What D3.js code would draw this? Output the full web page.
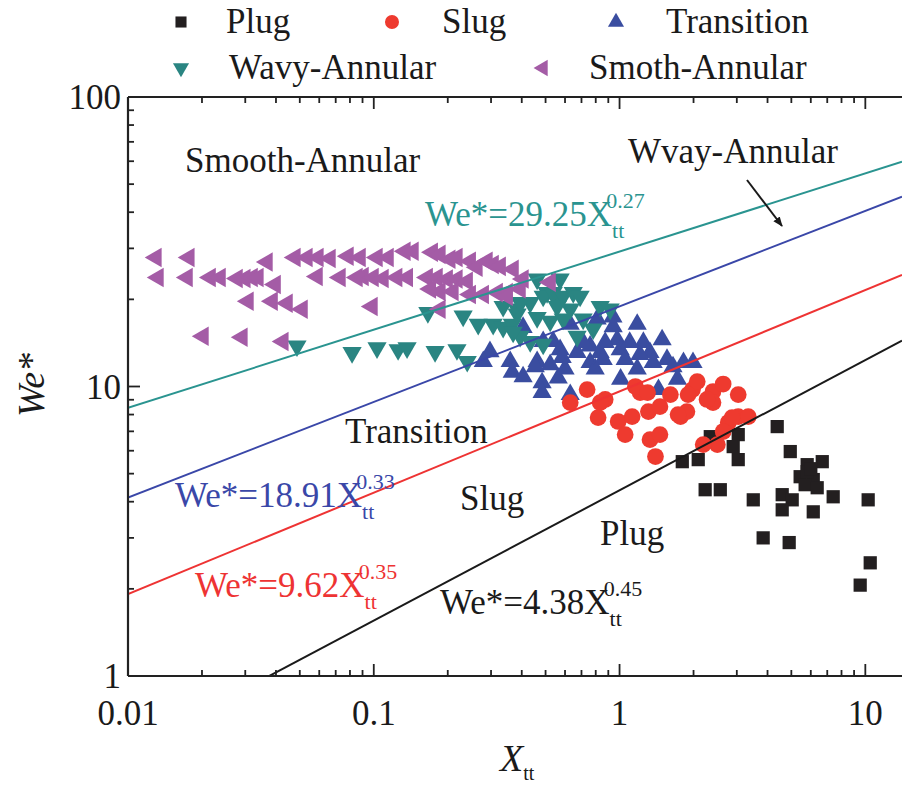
<!DOCTYPE html>
<html>
<head>
<meta charset="utf-8">
<script src="https://cdn.jsdelivr.net/npm/d3@7"></script>
<style>
  body { margin: 0; background: #fff; }
  text { font-family: "Liberation Serif", "Times New Roman", "DejaVu Serif", serif; }
</style>
</head>
<body>
<main></main>
<script>
// flow pattern data, [Xtt, We*]
const plug = [
  [4.38, 7.27], [4.95, 5.96], [5.80, 5.37], [6.68, 5.50], [5.43, 4.88], [6.14, 4.77],
  [5.69, 4.58], [6.37, 4.47], [7.40, 4.16], [10.27, 4.06], [4.59, 4.23], [5.04, 4.06],
  [4.59, 3.75], [6.14, 3.69], [3.50, 4.06], [3.84, 3.00], [4.90, 2.89], [10.47, 2.46],
  [9.53, 2.06], [2.23, 4.40], [2.57, 4.40], [1.80, 5.50], [2.09, 5.59], [2.34, 6.71],
  [3.04, 6.82], [2.90, 6.20], [3.04, 5.59], [5.80, 5.08], [6.0, 5.2]
];
const slug = [
  [0.630, 8.80], [0.738, 9.76], [0.874, 9.02], [0.818, 7.81], [0.987, 7.57], [1.125, 7.87],
  [1.054, 6.82], [1.213, 9.53], [1.16, 10.0], [1.31, 8.19], [1.46, 8.52], [1.61, 9.38],
  [1.77, 7.87], [1.88, 8.19], [1.98, 9.76], [2.07, 10.4], [1.90, 9.38], [2.40, 9.61],
  [2.64, 10.2], [3.04, 9.38], [2.40, 8.80], [2.77, 7.51], [3.04, 7.87], [3.34, 7.87],
  [2.64, 6.99], [2.50, 6.30], [2.19, 6.30], [1.33, 6.55], [1.46, 6.82], [1.40, 5.73],
  [1.30, 9.53], [1.73, 8.00], [2.87, 7.81], [2.27, 9.02], [0.834, 8.80]
];
const transition = [
  [0.297, 13.2], [0.279, 12.2], [0.359, 12.2], [0.405, 16.0], [0.462, 12.2], [0.537, 14.3],
  [0.522, 11.9], [0.366, 11.2], [0.405, 10.8], [0.454, 11.7], [0.484, 10.3], [0.484, 9.53],
  [0.563, 10.7], [0.630, 9.38], [0.489, 14.3], [0.573, 13.4], [0.584, 12.6], [0.630, 16.4],
  [0.672, 13.1], [0.759, 13.8], [0.759, 12.1], [0.796, 11.5], [0.834, 13.1], [0.858, 12.4],
  [0.942, 16.1], [0.978, 14.5], [1.006, 13.4], [1.054, 12.4], [0.94, 17.4], [1.18, 16.4],
  [1.25, 14.2], [1.33, 13.1], [1.37, 12.1], [1.49, 14.5], [1.56, 12.4], [1.65, 11.7],
  [1.82, 12.1], [1.99, 12.1], [1.72, 10.6], [1.44, 9.76], [1.18, 11.5], [1.01, 10.6],
  [0.811, 17.1], [0.711, 14.2], [0.874, 14.2], [1.10, 14.2], [1.21, 12.9], [0.60, 11.5]
];
const wavyAnnular = [
  [0.0487, 13.8], [0.0816, 13.1], [0.1031, 13.6], [0.1256, 13.4], [0.1366, 13.6], [0.1776, 13.2],
  [0.218, 13.4], [0.240, 12.2], [0.166, 18.0], [0.231, 17.5], [0.266, 16.4], [0.306, 16.4],
  [0.336, 16.0], [0.366, 16.4], [0.394, 14.9], [0.433, 14.3], [0.462, 23.5], [0.507, 21.1],
  [0.557, 19.7], [0.336, 18.9], [0.383, 17.8], [0.462, 17.3], [0.522, 16.8], [0.489, 14.0],
  [0.369, 15.4], [0.383, 18.5], [0.433, 19.5], [0.489, 20.5], [0.537, 21.1], [0.590, 20.5],
  [0.648, 21.1], [0.691, 20.5], [0.557, 18.9], [0.630, 18.5], [0.590, 17.1], [0.711, 17.1],
  [0.834, 18.9], [0.916, 18.5], [0.672, 14.9], [0.781, 15.8], [0.573, 23.5], [0.394, 19.5]
];
const smothAnnular = [
  [0.0130, 27.9], [0.0177, 27.9], [0.0368, 26.9], [0.0478, 27.9], [0.0535, 27.9], [0.0593, 27.9],
  [0.0664, 27.7], [0.0786, 28.2], [0.0880, 27.9], [0.1031, 27.9], [0.1144, 27.9],
  [0.01325, 23.8], [0.0174, 23.8], [0.0216, 23.8], [0.0237, 23.8], [0.0278, 23.6], [0.0299, 23.6],
  [0.0320, 23.8], [0.0338, 23.8], [0.0397, 22.5], [0.0588, 24.0], [0.0729, 23.8], [0.0855, 23.8],
  [0.0905, 24.0], [0.0994, 23.8], [0.1091, 23.6],
  [0.0308, 19.7], [0.0386, 19.7], [0.0444, 19.4], [0.0511, 18.5], [0.0984, 18.9],
  [0.0202, 14.9], [0.0291, 14.8], [0.0427, 14.3],
  [0.134, 29.3], [0.1445, 29.3], [0.173, 29.1], [0.186, 28.6], [0.204, 27.5], [0.218, 27.9],
  [0.247, 27.1], [0.289, 27.1], [0.306, 26.4], [0.263, 25.8], [0.327, 26.0], [0.369, 25.4],
  [0.405, 23.5], [0.124, 23.8], [0.137, 23.8], [0.165, 23.8], [0.181, 23.8], [0.199, 23.5],
  [0.218, 23.5], [0.240, 23.1], [0.170, 21.7], [0.186, 21.3], [0.210, 21.3], [0.247, 20.8],
  [0.279, 20.8], [0.318, 21.1], [0.349, 21.1], [0.394, 21.7], [0.522, 22.9], [0.186, 18.5],
  [0.349, 20.5]
];

// boundary lines We* = a * Xtt^b
const fitA = [29.25, 18.91, 9.62, 4.38];
const fitB = [0.27, 0.33, 0.35, 0.45];
const fitColors = ["#2a9490", "#3a47a8", "#ee3333", "#1a1a1a"];

const xMajor = [0.01, 0.1, 1, 10];
const yMajor = [1, 10, 100];

const width = 902, height = 786;
const plotLeft = 128, plotRight = 902, plotTop = 97, plotBottom = 676;
const serif = "'Liberation Serif', 'Times New Roman', 'DejaVu Serif', serif";

const svg = d3.select("main").append("svg")
  .attr("width", width)
  .attr("height", height)
  .attr("font-family", serif)
  .style("display", "block");

const x = d3.scaleLog().domain([0.01, 14.1]).range([plotLeft, plotRight]);
const y = d3.scaleLog().domain([1, 100]).range([plotBottom, plotTop]);

svg.append("clipPath").attr("id", "plotclip")
  .append("rect")
  .attr("x", plotLeft).attr("y", plotTop)
  .attr("width", plotRight - plotLeft).attr("height", plotBottom - plotTop);

// markers
const series = [
  { name: "Plug", data: plug, color: "#231f20", type: d3.symbolSquare, size: 175, rot: 0 },
  { name: "Transition", data: transition, color: "#3a4da0", type: d3.symbolTriangle, size: 160, rot: 0 },
  { name: "Wavy-Annular", data: wavyAnnular, color: "#2a8582", type: d3.symbolTriangle, size: 160, rot: 180 },
  { name: "Smoth-Annular", data: smothAnnular, color: "#a45ca6", type: d3.symbolTriangle, size: 165, rot: -90 },
  { name: "Slug", data: slug, color: "#ee3a2f", type: d3.symbolCircle, size: 220, rot: 0 }
];

const pts = svg.append("g").attr("clip-path", "url(#plotclip)");
series.forEach(s => {
  const sym = d3.symbol().type(s.type).size(s.size);
  pts.append("g").selectAll("path")
    .data(s.data)
    .join("path")
    .attr("d", sym)
    .attr("fill", s.color)
    .attr("transform", d => "translate(" + x(d[0]) + "," + y(d[1]) + ") rotate(" + s.rot + ")");
});

// boundary lines
const lineG = svg.append("g").attr("clip-path", "url(#plotclip)");
const xs = x.domain();
fitA.forEach((a, i) => {
  const pts2 = xs.map(v => [v, a * Math.pow(v, fitB[i])]);
  lineG.append("path")
    .attr("d", d3.line().x(d => x(d[0])).y(d => y(d[1]))(pts2))
    .attr("fill", "none")
    .attr("stroke", fitColors[i])
    .attr("stroke-width", 2);
});

// axes
const axisColor = "#222";
const ax = svg.append("g");
ax.append("line").attr("x1", plotLeft).attr("x2", plotRight).attr("y1", plotBottom).attr("y2", plotBottom)
  .attr("stroke", axisColor).attr("stroke-width", 2.2);
ax.append("line").attr("x1", plotLeft).attr("x2", plotRight).attr("y1", plotTop).attr("y2", plotTop)
  .attr("stroke", axisColor).attr("stroke-width", 2.2);
ax.append("line").attr("x1", plotLeft).attr("x2", plotLeft).attr("y1", plotTop).attr("y2", plotBottom)
  .attr("stroke", axisColor).attr("stroke-width", 2.2);

function logTicks(scale) {
  const [lo, hi] = scale.domain();
  const out = [];
  for (let e = Math.floor(Math.log10(lo)); e <= Math.ceil(Math.log10(hi)); e++) {
    for (let m = 1; m <= 9; m++) {
      const v = m * Math.pow(10, e);
      if (v >= lo * 0.999 && v <= hi) out.push({ v: v, major: m === 1 });
    }
  }
  return out;
}

logTicks(x).forEach(t => {
  const len = t.major ? 12 : 6;
  [[plotBottom, -len], [plotTop, len]].forEach(([yy, dl]) => {
    ax.append("line").attr("x1", x(t.v)).attr("x2", x(t.v)).attr("y1", yy).attr("y2", yy + dl)
      .attr("stroke", axisColor).attr("stroke-width", 1.8);
  });
});
logTicks(y).forEach(t => {
  const len = t.major ? 12 : 6;
  ax.append("line").attr("x1", plotLeft).attr("x2", plotLeft + len).attr("y1", y(t.v)).attr("y2", y(t.v))
    .attr("stroke", axisColor).attr("stroke-width", 1.8);
});

const fmt = v => v >= 1 ? String(v) : String(+v.toFixed(2));
ax.selectAll("text.xt").data(xMajor).join("text")
  .attr("x", d => x(d)).attr("y", 725)
  .attr("text-anchor", "middle").attr("font-size", 35).attr("fill", "#1a1a1a")
  .text(fmt);
ax.selectAll("text.yt").data(yMajor).join("text")
  .attr("x", 121).attr("y", d => y(d) + 12)
  .attr("text-anchor", "end").attr("font-size", 35).attr("fill", "#1a1a1a")
  .text(fmt);

// axis titles
svg.append("text")
  .attr("transform", "translate(44,385) rotate(-90)")
  .attr("text-anchor", "middle").attr("font-size", 38).attr("font-style", "italic").attr("fill", "#1a1a1a")
  .text("We*");
const xt = svg.append("text").attr("x", 500).attr("y", 771).attr("font-size", 38).attr("fill", "#1a1a1a");
xt.append("tspan").attr("font-style", "italic").text("X");
xt.append("tspan").attr("font-size", 20).attr("dy", 9).text("tt");

// region labels
const labels = [
  { t: "Smooth-Annular", x: 185, y: 172 },
  { t: "Wvay-Annular", x: 628, y: 163 },
  { t: "Transition", x: 345, y: 443 },
  { t: "Slug", x: 460, y: 510 },
  { t: "Plug", x: 600, y: 545 }
];
labels.forEach(l => {
  svg.append("text").attr("x", l.x).attr("y", l.y).attr("font-size", 35).attr("fill", "#1a1a1a").text(l.t);
});

// arrow
svg.append("defs").append("marker")
  .attr("id", "arrowhead").attr("viewBox", "0 0 10 10").attr("refX", 9).attr("refY", 5)
  .attr("markerWidth", 5).attr("markerHeight", 5).attr("orient", "auto")
  .append("path").attr("d", "M0,1 L10,5 L0,9 z").attr("fill", "#1a1a1a");
svg.append("line").attr("x1", 747).attr("y1", 180).attr("x2", 782).attr("y2", 226)
  .attr("stroke", "#1a1a1a").attr("stroke-width", 2).attr("marker-end", "url(#arrowhead)");

// equations
const eqPos = [[425, 226], [175, 507], [195, 597], [440, 614]];
fitA.forEach((a, i) => {
  const t = svg.append("text").attr("x", eqPos[i][0]).attr("y", eqPos[i][1])
    .attr("font-size", 35).attr("fill", fitColors[i]);
  t.append("tspan").text("We*=" + a.toFixed(2) + "X");
  t.append("tspan").attr("font-size", 22).attr("dy", 12).text("tt");
  t.append("tspan").attr("font-size", 22).attr("dx", -18).attr("dy", -30).text(fitB[i].toFixed(2));
});

// legend
const legendRows = [
  { s: series[0], mx: 181, tx: 226, ty: 22 },
  { s: series[4], mx: 392, tx: 442, ty: 22 },
  { s: series[1], mx: 616, tx: 666, ty: 22 },
  { s: series[2], mx: 181, tx: 229, ty: 68 },
  { s: series[3], mx: 543, tx: 589, ty: 68 }
];
const leg = svg.append("g");
legendRows.forEach(r => {
  leg.append("path")
    .attr("d", d3.symbol().type(r.s.type).size(r.s.size * 0.7)())
    .attr("fill", r.s.color)
    .attr("transform", "translate(" + r.mx + "," + r.ty + ") rotate(" + r.s.rot + ")");
  leg.append("text").attr("x", r.tx).attr("y", r.ty + 11)
    .attr("font-size", 35).attr("fill", "#1a1a1a").text(r.s.name);
});
</script>
</body>
</html>
